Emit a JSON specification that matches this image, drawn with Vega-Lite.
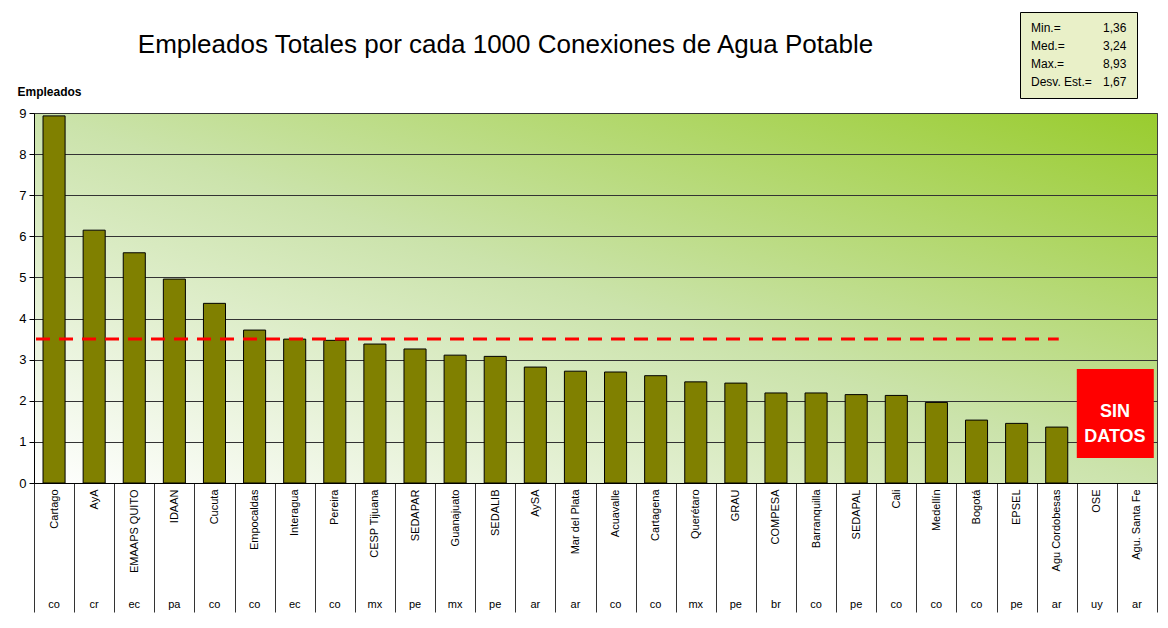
{
  "$schema": "https://vega.github.io/schema/vega-lite/v6.json",
  "width": 1123,
  "height": 370,
  "autosize": {"type": "none"},
  "padding": {"left": 34, "top": 113, "right": 11, "bottom": 145},
  "background": "white",
  "config": {
    "font": "Liberation Sans"
  },
  "view": {
    "stroke": "#404040",
    "fill": {
      "gradient": "linear",
      "x1": 0, "y1": 1, "x2": 1, "y2": 0,
      "stops": [
        {"offset": 0, "color": "#ffffff"},
        {"offset": 0.5, "color": "#cbe3ab"},
        {"offset": 1, "color": "#99cc2e"}
      ]
    }
  },
  "title": {
    "text": "Empleados Totales por cada 1000 Conexiones de Agua Potable",
    "fontSize": 26,
    "fontWeight": "normal",
    "font": "Liberation Sans",
    "color": "#000000",
    "anchor": "middle",
    "frame": "group",
    "dx": -90,
    "offset": 0,
    "dy": 67,
    "baseline": "alphabetic"
  },
  "datasets": {
    "main": [
      {"name": "Cartago", "country": "co", "key": "Cartago|co", "value": 8.93},
      {"name": "AyA", "country": "cr", "key": "AyA|cr", "value": 6.15},
      {"name": "EMAAPS QUITO", "country": "ec", "key": "EMAAPS QUITO|ec", "value": 5.6},
      {"name": "IDAAN", "country": "pa", "key": "IDAAN|pa", "value": 4.96},
      {"name": "Cucuta", "country": "co", "key": "Cucuta|co", "value": 4.37},
      {"name": "Empocaldas", "country": "co", "key": "Empocaldas|co", "value": 3.72},
      {"name": "Interagua", "country": "ec", "key": "Interagua|ec", "value": 3.5},
      {"name": "Pereira", "country": "co", "key": "Pereira|co", "value": 3.47},
      {"name": "CESP Tijuana", "country": "mx", "key": "CESP Tijuana|mx", "value": 3.38},
      {"name": "SEDAPAR", "country": "pe", "key": "SEDAPAR|pe", "value": 3.26},
      {"name": "Guanajuato", "country": "mx", "key": "Guanajuato|mx", "value": 3.11},
      {"name": "SEDALIB", "country": "pe", "key": "SEDALIB|pe", "value": 3.08},
      {"name": "AySA", "country": "ar", "key": "AySA|ar", "value": 2.82},
      {"name": "Mar del Plata", "country": "ar", "key": "Mar del Plata|ar", "value": 2.72},
      {"name": "Acuavalle", "country": "co", "key": "Acuavalle|co", "value": 2.7},
      {"name": "Cartagena", "country": "co", "key": "Cartagena|co", "value": 2.61},
      {"name": "Querétaro", "country": "mx", "key": "Querétaro|mx", "value": 2.46},
      {"name": "GRAU", "country": "pe", "key": "GRAU|pe", "value": 2.43},
      {"name": "COMPESA", "country": "br", "key": "COMPESA|br", "value": 2.19},
      {"name": "Barranquilla", "country": "co", "key": "Barranquilla|co", "value": 2.19},
      {"name": "SEDAPAL", "country": "pe", "key": "SEDAPAL|pe", "value": 2.15},
      {"name": "Cali", "country": "co", "key": "Cali|co", "value": 2.13},
      {"name": "Medellín", "country": "co", "key": "Medellín|co", "value": 1.96},
      {"name": "Bogotá", "country": "co", "key": "Bogotá|co", "value": 1.53},
      {"name": "EPSEL", "country": "pe", "key": "EPSEL|pe", "value": 1.45},
      {"name": "Agu Cordobesas", "country": "ar", "key": "Agu Cordobesas|ar", "value": 1.36},
      {"name": "OSE", "country": "uy", "key": "OSE|uy", "value": null},
      {"name": "Agu. Santa Fe", "country": "ar", "key": "Agu. Santa Fe|ar", "value": null}
    ],
    "stats": [
      {"s": "Min.="}, {"s": "Med.="}, {"s": "Max.="}, {"s": "Desv. Est.="},
      {"s": "1,36"}, {"s": "3,24"}, {"s": "8,93"}, {"s": "1,67"}
    ],
    "ref": [
      {"from": "Cartago|co", "to": "Agu Cordobesas|ar", "value": 3.5}
    ],
    "nodata": [
      {"from": "OSE|uy", "to": "Agu. Santa Fe|ar", "lo": 0.61, "hi": 2.77, "mid": 1.72, "text": "SIN\nDATOS"}
    ]
  },
  "layer": [
    {
      "data": {"name": "main"},
      "mark": {"type": "bar", "color": "#808000", "stroke": "#000000", "strokeWidth": 1, "width": {"band": 0.55}},
      "encoding": {
        "x": {
          "field": "key", "type": "nominal", "sort": null,
          "scale": {
            "domain": ["Cartago|co", "AyA|cr", "EMAAPS QUITO|ec", "IDAAN|pa", "Cucuta|co", "Empocaldas|co", "Interagua|ec", "Pereira|co", "CESP Tijuana|mx", "SEDAPAR|pe", "Guanajuato|mx", "SEDALIB|pe", "AySA|ar", "Mar del Plata|ar", "Acuavalle|co", "Cartagena|co", "Querétaro|mx", "GRAU|pe", "COMPESA|br", "Barranquilla|co", "SEDAPAL|pe", "Cali|co", "Medellín|co", "Bogotá|co", "EPSEL|pe", "Agu Cordobesas|ar", "OSE|uy", "Agu. Santa Fe|ar"],
            "paddingInner": 0, "paddingOuter": 0
          },
          "axis": {
            "title": null, "orient": "bottom",
            "labelAngle": -90, "labelAlign": "right", "labelBaseline": "middle",
            "labelExpr": "isString(datum.value) ? split(datum.value, '|')[0] : ''",
            "labelFontSize": 11, "labelColor": "#000000", "labelPadding": -123,
            "labelLimit": 200, "labelOverlap": false,
            "tickBand": "extent", "tickSize": 129, "tickColor": "#333333", "tickWidth": 1,
            "domainColor": "#000000", "grid": false
          }
        },
        "y": {
          "field": "value", "type": "quantitative",
          "scale": {"domain": [0, 9], "nice": false},
          "axis": {
            "title": "Empleados", "titleAngle": 0, "titleAlign": "left", "titleBaseline": "alphabetic",
            "titleX": -17, "titleY": -18, "titleFontSize": 12, "titleFontWeight": "bold", "titleColor": "#000000",
            "values": [0, 1, 2, 3, 4, 5, 6, 7, 8, 9],
            "labelFontSize": 13, "labelColor": "#000000", "labelPadding": 3,
            "tickColor": "#000000", "tickSize": 5, "domainColor": "#000000",
            "grid": true, "gridColor": "#333333", "gridWidth": 1
          }
        }
      }
    },
    {
      "data": {"name": "main"},
      "mark": {"type": "bar", "opacity": 0},
      "encoding": {
        "x": {
          "field": "key", "type": "nominal", "sort": null,
          "axis": {
            "title": null, "orient": "bottom", "offset": 115,
            "labelAngle": 0, "labelAlign": "center", "labelBaseline": "top",
            "labelExpr": "isString(datum.value) ? split(datum.value, '|')[1] : ''",
            "labelFontSize": 11, "labelColor": "#000000", "labelPadding": 0,
            "labelOverlap": false, "ticks": false, "domain": false, "grid": false
          }
        }
      }
    },
    {
      "data": {"name": "ref"},
      "mark": {"type": "rule", "color": "#ff0000", "strokeWidth": 3, "strokeDash": [14, 9]},
      "encoding": {
        "x": {"field": "from", "type": "nominal", "bandPosition": 0.05, "axis": null},
        "x2": {"field": "to", "bandPosition": 0.55},
        "y": {"field": "value", "type": "quantitative"}
      }
    },
    {
      "data": {"name": "nodata"},
      "mark": {"type": "rect", "color": "#ff0000"},
      "encoding": {
        "x": {"field": "from", "type": "nominal", "bandPosition": 0, "axis": null},
        "x2": {"field": "to", "bandPosition": 0.92},
        "y": {"field": "lo", "type": "quantitative"},
        "y2": {"field": "hi"}
      }
    },
    {
      "data": {"name": "nodata"},
      "mark": {"type": "text", "color": "#ffffff", "fontSize": 18, "fontWeight": "bold", "lineBreak": "\n", "lineHeight": 25, "align": "center", "baseline": "middle"},
      "encoding": {
        "x": {"field": "from", "type": "nominal", "bandPosition": 0.95, "axis": null},
        "y": {"field": "mid", "type": "quantitative"},
        "text": {"field": "text"}
      }
    },
    {
      "data": {"name": "stats"},
      "mark": {"type": "point", "opacity": 0},
      "encoding": {
        "color": {
          "field": "s", "type": "nominal", "sort": null,
          "scale": {"range": ["#000000"]},
          "legend": {
            "title": null, "orient": "none", "legendX": 986, "legendY": -101,
            "columns": 2, "columnPadding": 10, "rowPadding": 6, "padding": 10,
            "gridAlign": "each",
            "fillColor": "#e9f0c8", "strokeColor": "#000000",
            "symbolType": "square", "symbolSize": 1, "symbolStrokeWidth": 0, "symbolOpacity": 0, "labelOffset": -11,
            "labelFontSize": 12, "labelColor": "#000000", "labelFont": "Liberation Sans"
          }
        }
      }
    }
  ],
  "resolve": {"axis": {"x": "independent"}}
}
